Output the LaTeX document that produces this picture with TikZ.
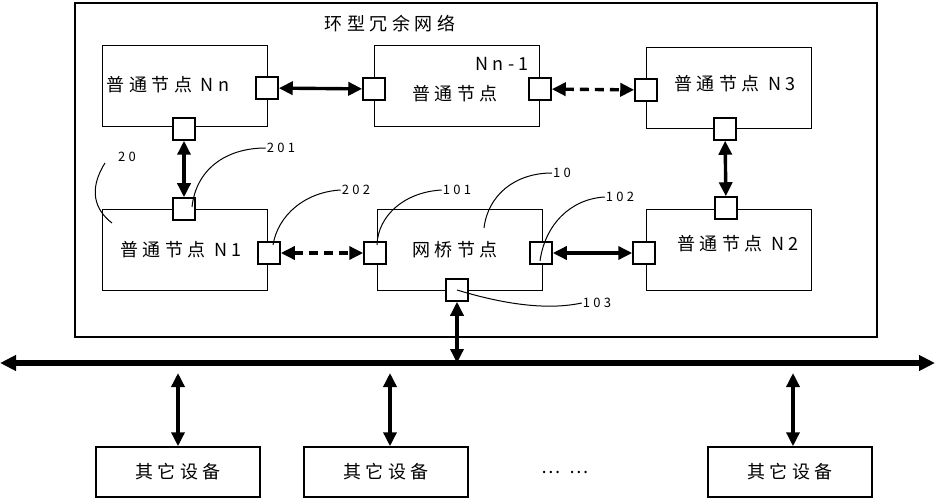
\documentclass[tikz,border=0pt]{standalone}
\usepackage{fontspec}
\newfontfamily\cjk[LetterSpace=25]{Noto Sans CJK SC}
\usetikzlibrary{arrows.meta}

\begin{document}
\begin{tikzpicture}[x=1pt, y=-1pt,
    font=\cjk\fontsize{18}{20}\selectfont,
    node/.style={rectangle, draw, line width=1.5pt, minimum width=165pt, minimum height=81pt, inner sep=0pt},
    port/.style={rectangle, draw, line width=1.5pt, fill=white, minimum size=22pt, inner sep=0pt},
    device/.style={rectangle, draw, line width=1.5pt, minimum width=164pt, minimum height=50pt},
    link/.style={{Triangle[length=14pt,width=13pt]}-{Triangle[length=14pt,width=13pt]}, line width=3.4pt},
    dlink/.style={link, dash pattern=on 9pt off 6pt},
    lead/.style={line width=1pt},
    num/.style={font=\cjk\fontsize{13}{15}\selectfont, inner sep=1pt}
]
\useasboundingbox (0,0) rectangle (935,500);

% Frame
\draw[line width=1.5pt] (75,3) rectangle (877,337);
\node at (390,24) {环型冗余网络};

% Nodes
\node[node] (nn) at (185,86) {};
\node at (168,85) {普通节点 Nn};
\node[node] (nn1) at (457,86) {};
\node at (455,94) {普通节点};
\node at (502,64) {Nn-1};
\node[node] (n3) at (729,88) {};
\node at (735,84) {普通节点 N3};
\node[node] (n1) at (185,250) {};
\node at (181,250) {普通节点 N1};
\node[node] (br) at (460,250) {};
\node at (455,250) {网桥节点};
\node[node] (n2) at (729,250) {};
\node at (738,244) {普通节点 N2};

% Ports
\node[port] (pnnr) at (267,88) {};
\node[port] (pnnb) at (184,129) {};
\node[port] (pnn1l) at (374,89) {};
\node[port] (pnn1r) at (540,89) {};
\node[port] (pn3l) at (646,90) {};
\node[port] (pn3b) at (725,129) {};
\node[port] (pn1t) at (184,209) {};
\node[port] (pn1r) at (269,253) {};
\node[port] (pbrl) at (375,253) {};
\node[port] (pbrr) at (541,253) {};
\node[port] (pbrb) at (457,290) {};
\node[port] (pn2l) at (644,253) {};
\node[port] (pn2t) at (726,208) {};

% Ring links
\draw[link] (pnnr) -- (pnn1l);
\draw[dlink] (pnn1r) -- (pn3l);
\draw[link] (pnnb) -- (pn1t);
\draw[link] (pn3b) -- (pn2t);
\draw[dlink] (pn1r) -- (pbrl);
\draw[link] (pbrr) -- (pn2l);

% Bus
\coordinate (busl) at (0,363);
\coordinate (busr) at (935,363);
\draw[{Triangle[length=16pt,width=15pt]}-{Triangle[length=16pt,width=15pt]}, line width=6pt] (busl) -- (busr);
\coordinate (busb) at (457,363);
\draw[link] (pbrb) -- (busb);

% Other devices
\node[device] (d1) at (178,472) {其它设备};
\node[device] (d2) at (386,472) {其它设备};
\node[device] (d3) at (790,472) {其它设备};
\node at (565,472) {… …};
\foreach \d/\x in {d1/178, d2/390, d3/793} {
  \coordinate (t\d) at (\x,373);
  \draw[link] (t\d) -- (\d.north -| t\d);
}

% Reference numerals
\node[num] (l20) at (127,157) {20};
\draw[lead] (105,163) .. controls (88,190) and (95,210) .. (112,223);
\node[num] (l201) at (281,148) {201};
\draw[lead] (pn1t.center) ++(8,-2) .. controls (196,170) and (225,148) .. (l201.west);
\node[num] (l202) at (356,190) {202};
\draw[lead] (pn1r.center) ++(4,-8) .. controls (278,215) and (305,192) .. (l202.west);
\node[num] (l101) at (457,190) {101};
\draw[lead] (pbrl.center) ++(2,-8) .. controls (378,215) and (405,192) .. (l101.west);
\node[num] (l10) at (562,173) {10};
\draw[lead] (484,228) .. controls (488,195) and (515,173) .. (l10.west);
\node[num] (l102) at (620,197) {102};
\draw[lead] (pbrr.center) ++(-1,8) .. controls (545,225) and (570,199) .. (l102.west);
\node[num] (l103) at (597,303) {103};
\draw[lead] (pbrb.center) .. controls (490,300) and (540,312) .. (l103.west);

\end{tikzpicture}
\end{document}
